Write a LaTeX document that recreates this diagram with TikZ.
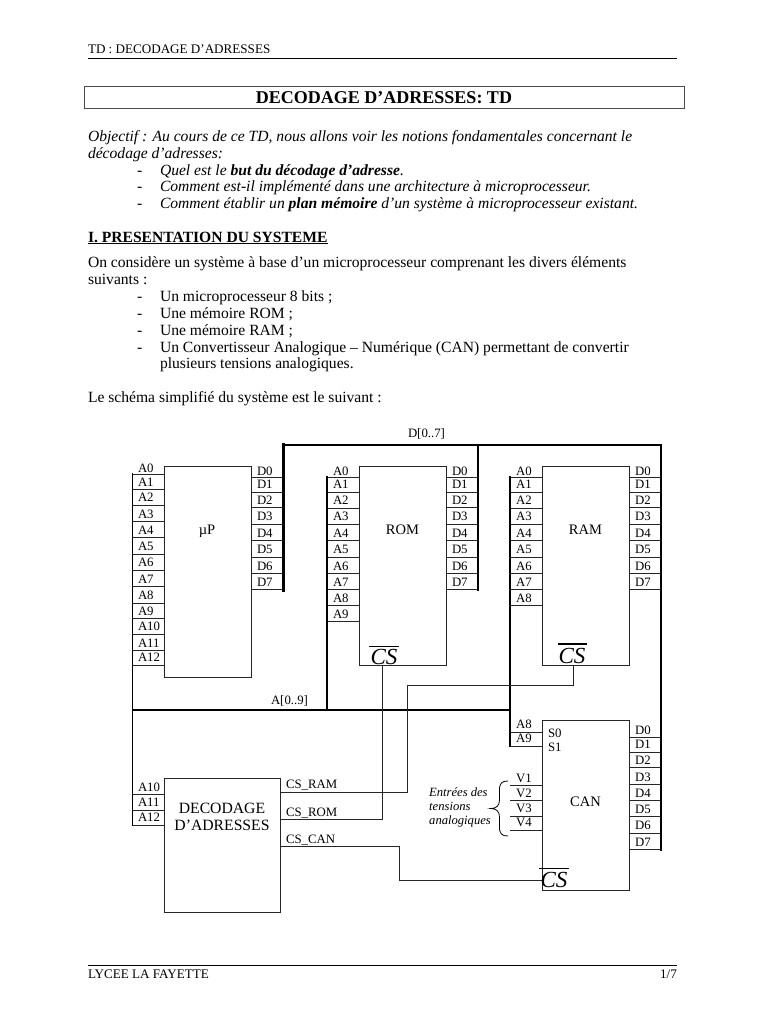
\documentclass[tikz,border=0pt]{standalone}
\usepackage{fontspec}
\setmainfont{Liberation Serif}
\newcommand{\bodyf}{\fontsize{15.6}{17}\selectfont}
\newcommand{\pinf}{\fontsize{12.8}{14}\selectfont}
\begin{document}
\begin{tikzpicture}[x=1pt,y=-1pt,
  txt/.style={anchor=base west,inner sep=0pt,outer sep=0pt,font=\bodyf},
  pin/.style={anchor=base west,inner sep=0pt,outer sep=0pt,font=\pinf},
  ctr/.style={anchor=base,inner sep=0pt,outer sep=0pt,font=\fontsize{14.5}{16}\selectfont},
  csl/.style={anchor=base,inner sep=0pt,outer sep=0pt,font=\fontsize{23}{25}\selectfont\itshape},
  box/.style={draw=black!85,line width=0.9pt,fill=white,inner sep=0pt,outer sep=0pt},
  wire/.style={draw=black!85,line width=0.9pt},
  bus/.style={draw=black,line width=2pt,line cap=rect}]
\useasboundingbox[fill=white] (0,0) rectangle (768,1024);
% page text
\node[txt,font=\fontsize{13.1}{15}\selectfont] (hd) at (88,54) {TD : DECODAGE D’ADRESSES};
\coordinate (hl) at (88,58); \coordinate (hr) at (677,58);
\draw[line width=0.9pt] (hl) -- (hr);
\node[box,draw=black!70,minimum width=600pt,minimum height=22.5pt] (title) at (384,97.25) {};
\node[anchor=base,inner sep=0pt,font=\fontsize{18}{20}\selectfont\bfseries] (ttl) at (384,104) {DECODAGE D’ADRESSES: TD};
\node[txt] (o1) at (88,142) {\itshape Objectif : Au cours de ce TD, nous allons voir les notions fondamentales concernant le};
\node[txt] (o2) at (88,159) {\itshape décodage d’adresses:};
\node[txt] (d1) at (137,176) {-};
\node[txt] (l1) at (160,176) {\itshape Quel est le \textbf{but du décodage d’adresse}.};
\node[txt] (d2) at (137,192) {-};
\node[txt] (l2) at (160,192) {\itshape Comment est-il implémenté dans une architecture à microprocesseur.};
\node[txt] (d3) at (137,209) {-};
\node[txt] (l3) at (160,209) {\itshape Comment établir un \textbf{plan mémoire} d’un système à microprocesseur existant.};
\node[txt] (sec) at (88,242) {\textbf{\underline{I. PRESENTATION DU SYSTEME}}};
\node[txt] (p1) at (88,267) {On considère un système à base d’un microprocesseur comprenant les divers éléments};
\node[txt] (p2) at (88,284) {suivants :};
\node[txt] (d4) at (137,301) {-};
\node[txt] (m1) at (160,301) {Un microprocesseur 8 bits ;};
\node[txt] (d5) at (137,318) {-};
\node[txt] (m2) at (160,318) {Une mémoire ROM ;};
\node[txt] (d6) at (137,335) {-};
\node[txt] (m3) at (160,335) {Une mémoire RAM ;};
\node[txt] (d7) at (137,352) {-};
\node[txt] (m4) at (160,352) {Un Convertisseur Analogique – Numérique (CAN) permettant de convertir};
\node[txt] (m5) at (160,368) {plusieurs tensions analogiques.};
\node[txt] (p3) at (88,402) {Le schéma simplifié du système est le suivant :};
% footer
\coordinate (fl) at (88,965); \coordinate (fr) at (677,965);
\draw[line width=0.9pt] (fl) -- (fr);
\node[txt,font=\fontsize{13.1}{15}\selectfont] (ft) at (88,978) {LYCEE LA FAYETTE};
\node[anchor=base east,inner sep=0pt,font=\fontsize{13.1}{15}\selectfont] (pg) at (677,978) {1/7};
% boxes
\node[box,minimum width=86.5pt,minimum height=210.5pt] (up) at (207.75,571.75) {};
\node[box,minimum width=86.5pt,minimum height=199pt] (rom) at (402.75,566) {};
\node[box,minimum width=86.5pt,minimum height=199pt] (ram) at (585.75,566) {};
\node[box,minimum width=86.5pt,minimum height=169.5pt] (can) at (585.75,805.25) {};
\node[box,minimum width=116pt,minimum height=134pt] (dec) at (222.5,845) {};
\node[ctr] (tup) at (207,534) {µP};
\node[ctr] (trom) at (402.5,534) {ROM};
\node[ctr] (tram) at (585.5,534) {RAM};
\node[ctr] (tcan) at (585.5,806) {CAN};
\node[ctr,font=\fontsize{15.7}{17}\selectfont] (tdec1) at (222,813) {DECODAGE};
\node[ctr,font=\fontsize{15.7}{17}\selectfont] (tdec2) at (222,830) {D’ADRESSES};
% pins
\foreach \y/\t/\b in {474/A0/472,489.5/A1/486,505/A2/501,521/A3/518,537/A4/534,554/A5/550,570/A6/566,586/A7/583,603/A8/599,618/A9/615,634/A10/630,650/A11/647,665/A12/661}{
  \draw[wire] (132.5,\y) -- (up.west |- 0,\y);
  \node[pin] at (138,\b) {\t};}
\foreach \y/\t/\b in {477.5/D0/475,492/D1/488,507.5/D2/504,524/D3/520,540/D4/537,557/D5/553,573/D6/570,589/D7/586}{
  \draw[wire] (up.east |- 0,\y) -- (283.5,\y);
  \node[pin] at (257,\b) {\t};
  \draw[wire] (rom.east |- 0,\y) -- (478,\y);
  \node[pin] at (452,\b) {\t};
  \draw[wire] (ram.east |- 0,\y) -- (661,\y);
  \node[pin] at (635,\b) {\t};}
\foreach \y/\t/\b in {477.5/A0/475,492/A1/488,508/A2/504,524/A3/520,540/A4/537,557/A5/553,573/A6/570,589/A7/586,605/A8/602}{
  \draw[wire] (327,\y) -- (rom.west |- 0,\y);
  \node[pin] at (333,\b) {\t};
  \draw[wire] (509.5,\y) -- (ram.west |- 0,\y);
  \node[pin] at (516,\b) {\t};}
\draw[wire] (327,621) -- (rom.west |- 0,621);
\node[pin] at (333,618) {A9};
\foreach \y/\t/\b in {794/A10/791,810/A11/806,825/A12/821}{
  \draw[wire] (132.5,\y) -- (dec.west |- 0,\y);
  \node[pin] at (138,\b) {\t};}
\draw[wire] (509.5,732.5) -- (can.west |- 0,732.5);
\draw[wire] (509.5,746) -- (can.west |- 0,746);
\node[pin] (a8) at (516,728) {A8};
\node[pin] (a9) at (516,742) {A9};
\node[pin] (s0) at (548,737) {S0};
\node[pin] (s1) at (548,751) {S1};
\foreach \y/\t/\b in {785/V1/782,800/V2/797,816/V3/812,830/V4/826}{
  \draw[wire] (can.west |- 0,\y) -- (510,\y);
  \node[pin] at (516,\b) {\t};}
\foreach \y/\t/\b in {737/D0/734,752/D1/748,767/D2/764,784/D3/781,800/D4/797,816/D5/813,833/D6/829,849/D7/846}{
  \draw[wire] (can.east |- 0,\y) -- (661,\y);
  \node[pin] at (635,\b) {\t};}
% buses
\coordinate (b1) at (283.5,590); \coordinate (b2) at (283.5,444.5); \coordinate (b3) at (661,444.5);
\coordinate (b4) at (661,850); \coordinate (b5) at (478,444.5); \coordinate (b6) at (478,590);
\draw[bus] (b2) -- (b3) -- (b4);
\draw[bus,line width=3pt] (b1) -- (b2);
\draw[bus] (b5) -- (b6);
\coordinate (c1) at (132.5,474); \coordinate (c2) at (132.5,825);
\coordinate (c3) at (132.5,710); \coordinate (c4) at (509.5,710);
\coordinate (c5) at (327,477); \coordinate (c6) at (327,710);
\coordinate (c7) at (509.5,477); \coordinate (c8) at (509.5,746);
\draw[bus,line width=1.6pt] (c1) -- (c2);
\draw[bus] (c3) -- (c4);
\draw[bus,line width=2.4pt] (c5) -- (c6);
\draw[bus] (c7) -- (c8);
\node[pin] (dbus) at (408,437) {D[0..7]};
\node[pin] (abus) at (271,704) {A[0..9]};
% chip selects
\draw[wire] (dec.east |- 0,792) -- (407.5,792) -- (407.5,685) -- (573,685) -- (ram.south -| 573,0);
\draw[wire] (dec.east |- 0,819.5) -- (382.5,819.5) -- (rom.south -| 382.5,0);
\draw[wire] (dec.east |- 0,846) -- (399.5,846) -- (399.5,880) -- (can.west |- 0,880);
\node[pin] (csram) at (286,788) {CS\_RAM};
\node[pin] (csrom) at (286,816) {CS\_ROM};
\node[pin] (cscan) at (286,843) {CS\_CAN};
\node[csl] (cs1) at (384,664.5) {CS};
\node[csl] (cs2) at (572,663) {CS};
\node[csl] (cs3) at (554,887) {CS};
\draw[line width=0.9pt] (369,646.5) -- (399,646.5);
\draw[line width=1.1pt] (558,644) -- (587,644);
\draw[line width=0.9pt] (539,868) -- (569,868);
% brace
\coordinate (br1) at (508,781); \coordinate (br2) at (499.5,790); \coordinate (brt) at (490.5,808.5);
\coordinate (br3) at (499.5,827); \coordinate (br4) at (508,836);
\draw[line width=0.8pt] (br1) .. controls (502,781) and (499.5,783) .. (br2) -- (499.5,800)
  .. controls (499.5,806) and (496,808.5) .. (brt) .. controls (496,808.5) and (499.5,811) .. (499.5,817)
  -- (br3) .. controls (499.5,834) and (502,836) .. (br4);
\foreach \n/\y/\t in {e1/796/Entrées des,e2/810.5/tensions,e3/824/analogiques}{
  \node[anchor=base west,inner sep=0pt,font=\fontsize{12.6}{14}\selectfont\itshape] (\n) at (429,\y) {\t};}
\end{tikzpicture}
\end{document}
